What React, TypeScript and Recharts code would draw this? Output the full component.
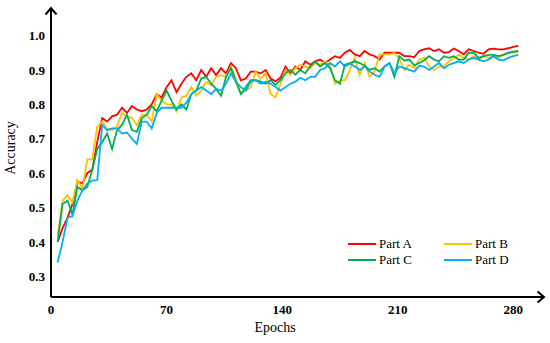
import React from "react";
import { LineChart, Line, XAxis, YAxis } from "recharts";

const epochs = [
  4, 7, 10, 13, 16, 19, 22, 25, 28, 31, 34, 37, 40, 43, 46, 49, 52, 55, 58, 61,
  64, 67, 70, 73, 76, 79, 82, 85, 88, 91, 94, 97, 100, 103, 106, 109, 112, 115,
  118, 121, 124, 127, 130, 133, 136, 139, 142, 145, 148, 151, 154, 157, 160,
  163, 166, 169, 172, 175, 178, 181, 184, 187, 190, 193, 196, 199, 202, 205,
  208, 211, 214, 217, 220, 223, 226, 229, 232, 235, 238, 241, 244, 247, 250,
  253, 256, 259, 262, 265, 268, 271, 274, 277, 280, 283,
];

const partA = [
  0.4, 0.44, 0.47, 0.51, 0.575, 0.57, 0.6, 0.61, 0.69, 0.76, 0.75, 0.765, 0.77,
  0.79, 0.775, 0.795, 0.785, 0.78, 0.785, 0.8, 0.83, 0.82, 0.85, 0.87, 0.835,
  0.86, 0.88, 0.89, 0.87, 0.9, 0.88, 0.905, 0.885, 0.905, 0.89, 0.92, 0.905,
  0.87, 0.875, 0.895, 0.895, 0.89, 0.9, 0.875, 0.867, 0.877, 0.91, 0.89, 0.91,
  0.9, 0.925, 0.915, 0.925, 0.93, 0.92, 0.93, 0.94, 0.935, 0.95, 0.958, 0.945,
  0.94, 0.955, 0.945, 0.94, 0.93, 0.95, 0.95, 0.95, 0.95, 0.94, 0.94, 0.937,
  0.955, 0.96, 0.963, 0.955, 0.96, 0.95, 0.952, 0.962, 0.955, 0.945, 0.96,
  0.955, 0.95, 0.947, 0.96, 0.962, 0.96, 0.96, 0.963, 0.967, 0.97,
];

const partB = [
  0.42, 0.52, 0.535, 0.515, 0.58, 0.555, 0.64, 0.64, 0.735, 0.75, 0.73, 0.725,
  0.735, 0.775, 0.765, 0.76, 0.74, 0.77, 0.77, 0.75, 0.83, 0.81, 0.8, 0.8, 0.78,
  0.82, 0.825, 0.85, 0.825, 0.84, 0.865, 0.855, 0.88, 0.885, 0.88, 0.91, 0.875,
  0.83, 0.84, 0.85, 0.895, 0.875, 0.89, 0.83, 0.82, 0.86, 0.9, 0.885, 0.905,
  0.915, 0.91, 0.905, 0.92, 0.915, 0.925, 0.915, 0.86, 0.87, 0.87, 0.9, 0.935,
  0.885, 0.92, 0.88, 0.895, 0.945, 0.945, 0.945, 0.95, 0.932, 0.9, 0.915, 0.905,
  0.93, 0.935, 0.91, 0.9, 0.91, 0.912, 0.925, 0.935, 0.944, 0.935, 0.93, 0.94,
  0.93, 0.94, 0.935, 0.94, 0.935, 0.944, 0.95, 0.95, 0.953,
];

const partC = [
  0.4, 0.51, 0.52, 0.48, 0.56, 0.55, 0.56, 0.61, 0.67, 0.69, 0.715, 0.67, 0.725,
  0.74, 0.77, 0.725, 0.72, 0.76, 0.77, 0.795, 0.78, 0.81, 0.84, 0.81, 0.785,
  0.8, 0.785, 0.83, 0.84, 0.875, 0.88, 0.86, 0.845, 0.825, 0.88, 0.905, 0.865,
  0.83, 0.85, 0.87, 0.87, 0.866, 0.86, 0.87, 0.857, 0.87, 0.89, 0.9, 0.886, 0.9,
  0.89, 0.91, 0.925, 0.91, 0.92, 0.905, 0.87, 0.86, 0.915, 0.92, 0.925, 0.92,
  0.912, 0.9, 0.905, 0.895, 0.91, 0.92, 0.88, 0.94, 0.927, 0.93, 0.913, 0.92,
  0.928, 0.94, 0.93, 0.925, 0.94, 0.935, 0.94, 0.93, 0.93, 0.95, 0.95, 0.935,
  0.94, 0.944, 0.944, 0.94, 0.944, 0.95, 0.953, 0.955,
];

const partD = [
  0.34, 0.4, 0.47, 0.475, 0.52, 0.55, 0.57, 0.578, 0.58, 0.74, 0.725, 0.73,
  0.73, 0.715, 0.718, 0.7, 0.685, 0.75, 0.75, 0.73, 0.775, 0.79, 0.79, 0.79,
  0.79, 0.79, 0.805, 0.83, 0.84, 0.85, 0.84, 0.83, 0.845, 0.84, 0.86, 0.89,
  0.865, 0.85, 0.84, 0.866, 0.87, 0.86, 0.866, 0.86, 0.85, 0.84, 0.85, 0.86,
  0.866, 0.877, 0.87, 0.88, 0.88, 0.9, 0.905, 0.92, 0.91, 0.925, 0.91, 0.918,
  0.91, 0.9, 0.91, 0.895, 0.886, 0.88, 0.91, 0.92, 0.89, 0.91, 0.905, 0.9,
  0.895, 0.912, 0.91, 0.9, 0.91, 0.92, 0.905, 0.915, 0.92, 0.925, 0.92, 0.93,
  0.935, 0.93, 0.925, 0.93, 0.94, 0.93, 0.928, 0.935, 0.94, 0.944,
];

const xTicks = [0, 70, 140, 210, 280];
const yTicks = [0.3, 0.4, 0.5, 0.6, 0.7, 0.8, 0.9, 1.0];

const series = [
  { key: "partA", name: "Part A", color: "#ff0000" },
  { key: "partB", name: "Part B", color: "#ffc000" },
  { key: "partC", name: "Part C", color: "#00b050" },
  { key: "partD", name: "Part D", color: "#00b0f0" },
];

const data = epochs.map((epoch, i) => ({
  epoch,
  partA: partA[i],
  partB: partB[i],
  partC: partC[i],
  partD: partD[i],
}));

const serif = "'Liberation Serif', 'Times New Roman', serif";

const tickStyle = {
  fill: "#000",
  fontSize: 13,
  fontWeight: "bold",
  fontFamily: serif,
};

function ChartLegend() {
  return (
    <div
      style={{
        position: "absolute",
        left: 348,
        top: 236,
        display: "grid",
        gridTemplateColumns: "96px 96px",
        fontFamily: serif,
        fontSize: 13,
        color: "#000",
      }}
    >
      {series.map((s) => (
        <div
          key={s.key}
          style={{ display: "flex", alignItems: "center", height: 16 }}
        >
          <span
            style={{
              display: "inline-block",
              width: 28,
              height: 2,
              background: s.color,
              marginRight: 3,
            }}
          />
          <span>{s.name}</span>
        </div>
      ))}
    </div>
  );
}

export default function App() {
  return (
    <div
      style={{
        position: "fixed",
        left: 0,
        top: 0,
        width: 550,
        height: 343,
        background: "#fff",
      }}
    >
      <LineChart
        width={550}
        height={343}
        data={data}
        margin={{ top: 8, right: 7, bottom: 16, left: 21 }}
      >
        <XAxis
          dataKey="epoch"
          type="number"
          domain={[0, 298]}
          ticks={xTicks}
          height={30}
          axisLine={{ stroke: "#000", strokeWidth: 2 }}
          tickLine={false}
          tickMargin={2}
          tick={tickStyle}
        />
        <YAxis
          type="number"
          domain={[0.24, 1.08]}
          ticks={yTicks}
          width={30}
          axisLine={{ stroke: "#000", strokeWidth: 2 }}
          tickLine={false}
          tickMargin={0}
          tick={tickStyle}
          tickFormatter={(v: number) => v.toFixed(1)}
        />
        {series.map((s) => (
          <Line
            key={s.key}
            dataKey={s.key}
            name={s.name}
            stroke={s.color}
            strokeWidth={1.8}
            dot={false}
            type="linear"
            isAnimationActive={false}
          />
        ))}
      </LineChart>
      <ChartLegend />
      <svg
        width={550}
        height={343}
        style={{ position: "absolute", left: 0, top: 0, pointerEvents: "none" }}
      >
        <polyline
          points="45.5,14.5 51,8 56.5,14.5"
          fill="none"
          stroke="#000"
          strokeWidth={2}
        />
        <polyline
          points="537.5,291.5 544,297 537.5,302.5"
          fill="none"
          stroke="#000"
          strokeWidth={2}
        />
        <text
          x={12}
          y={148}
          transform="rotate(-90 12 148)"
          textAnchor="middle"
          dominantBaseline="middle"
          fontFamily={serif}
          fontSize={14}
          fill="#000"
        >
          Accuracy
        </text>
        <text
          x={275}
          y={329}
          textAnchor="middle"
          dominantBaseline="middle"
          fontFamily={serif}
          fontSize={14}
          fill="#000"
        >
          Epochs
        </text>
      </svg>
    </div>
  );
}
